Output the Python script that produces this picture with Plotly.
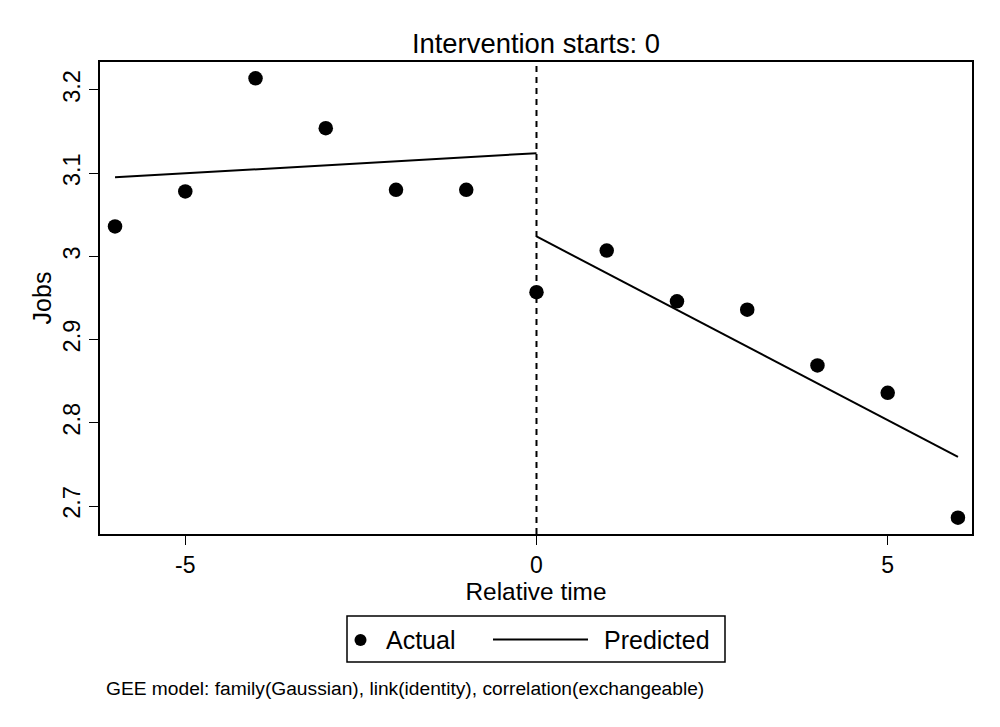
import plotly.graph_objects as go

rel_time = [-6, -5, -4, -3, -2, -1, 0, 1, 2, 3, 4, 5, 6]
actual = [3.036, 3.078, 3.214, 3.154, 3.080, 3.080, 2.957, 3.007, 2.946, 2.936, 2.869, 2.836, 2.686]
pred_pre_x = [-6, 0]
pred_pre_y = [3.095, 3.124]
pred_post_x = [0, 6]
pred_post_y = [3.024, 2.759]
y_ticks = [2.7, 2.8, 2.9, 3.0, 3.1, 3.2]
y_ticklabels = ["2.7", "2.8", "2.9", "3", "3.1", "3.2"]
x_ticks = [-5, 0, 5]
x_ticklabels = ["-5", "0", "5"]

FONT = "Liberation Sans, Arial, Helvetica, sans-serif"

# plot-area geometry (pixels) used to place paper-referenced decorations
L, R, T, B = 100, 972, 62, 534
PW, PH = R - L, B - T


def px(x):
    return (x - L) / PW


def py(y):
    return (B - y) / PH


fig = go.Figure()
fig.add_trace(go.Scatter(x=rel_time, y=actual, mode="markers", name="Actual",
                         marker=dict(color="black", size=14.5), showlegend=False))
fig.add_trace(go.Scatter(x=pred_pre_x, y=pred_pre_y, mode="lines", name="Predicted",
                         line=dict(color="black", width=2), showlegend=False))
fig.add_trace(go.Scatter(x=pred_post_x, y=pred_post_y, mode="lines", name="Predicted",
                         line=dict(color="black", width=2), showlegend=False))

fig.add_shape(type="line", x0=0, x1=0, y0=0, y1=1, xref="x", yref="paper",
              line=dict(color="black", width=2, dash="6px,5px"))

# legend (Stata style box)
fig.add_shape(type="rect", xref="paper", yref="paper",
              x0=px(347), x1=px(725), y0=py(662), y1=py(616),
              line=dict(color="black", width=1.5), fillcolor="white")
fig.add_shape(type="circle", xref="paper", yref="paper",
              x0=px(354.5), x1=px(366.5), y0=py(646), y1=py(634),
              line=dict(color="black", width=0), fillcolor="black")
fig.add_shape(type="line", xref="paper", yref="paper",
              x0=px(493), x1=px(588), y0=py(639.5), y1=py(639.5),
              line=dict(color="black", width=2))

annotations = [
    dict(text="Actual", xref="paper", yref="paper", x=px(384), y=py(640),
         xanchor="left", yanchor="middle", showarrow=False, font=dict(size=25)),
    dict(text="Predicted", xref="paper", yref="paper", x=px(602), y=py(640),
         xanchor="left", yanchor="middle", showarrow=False, font=dict(size=25)),
    dict(text="GEE model: family(Gaussian), link(identity), correlation(exchangeable)",
         xref="paper", yref="paper", x=px(104), y=py(688),
         xanchor="left", yanchor="middle", showarrow=False, font=dict(size=19.2)),
]

fig.update_layout(
    width=1000, height=727,
    margin=dict(l=L, r=1000 - R, t=T, b=727 - B),
    paper_bgcolor="white", plot_bgcolor="white",
    font=dict(family=FONT, color="black", size=23.5),
    title=dict(text="Intervention starts: 0", x=536 / 1000,
               xanchor="center", y=1 - 43 / 727, yanchor="middle",
               font=dict(size=27.4)),
    showlegend=False,
    annotations=annotations,
)
fig.update_xaxes(range=[-6.214, 6.2], tickvals=x_ticks, ticktext=x_ticklabels,
                 ticks="outside", ticklen=9,
                 tickwidth=1.2, tickcolor="black", showline=True, linecolor="black",
                 linewidth=2, mirror=True, showgrid=False, zeroline=False,
                 title=dict(text="Relative time", standoff=1, font=dict(size=24.4)),
                 tickfont=dict(size=23))
fig.update_yaxes(range=[2.6664, 3.2336], tickvals=y_ticks, ticktext=y_ticklabels,
                 ticks="outside", ticklen=9, tickwidth=1.2, tickcolor="black",
                 showline=True, linecolor="black", linewidth=2, mirror=True,
                 showgrid=False, zeroline=False, tickangle=-90,
                 title=dict(text="Jobs", standoff=0, font=dict(size=25)),
                 tickfont=dict(size=23.5))

fig.write_html("out.html")
